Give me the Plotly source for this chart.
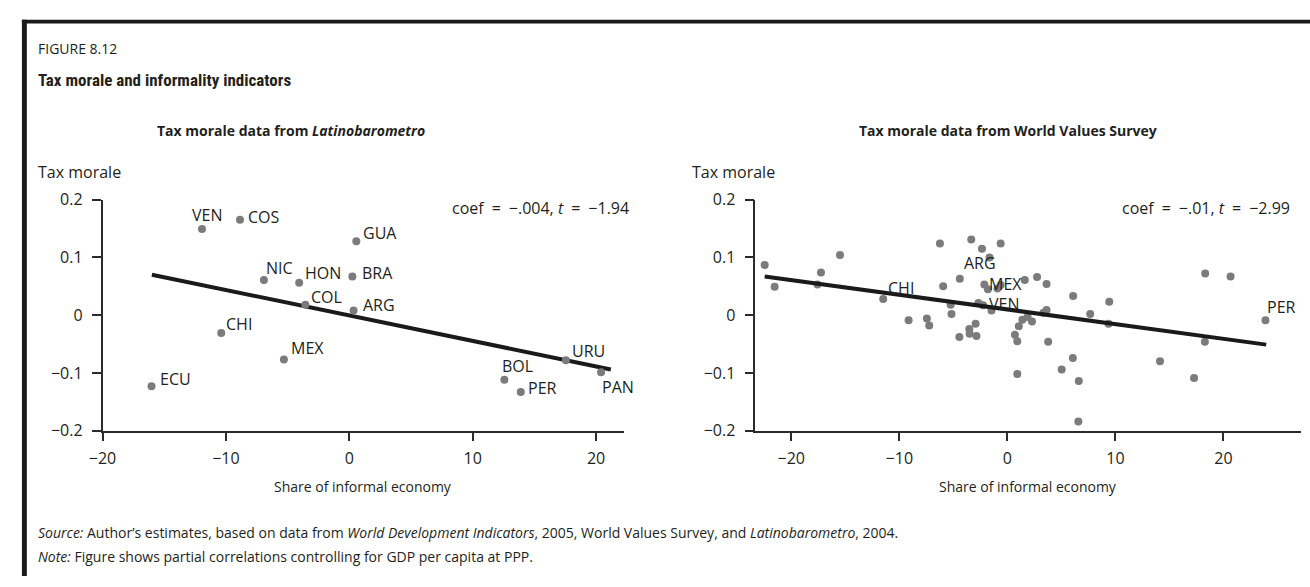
import plotly.graph_objects as go

W, H = 1310, 587

# ---------------- data: left panel (Latinobarometro) ----------------
lat_countries = ["VEN", "COS", "GUA", "NIC", "HON", "BRA", "COL", "ARG", "CHI",
                 "MEX", "ECU", "BOL", "PER", "URU", "PAN"]
lat_x = [-11.94, -8.86, 0.57, -6.92, -4.06, 0.25, -3.56, 0.35, -10.38,
         -5.30, -16.03, 12.57, 13.90, 17.56, 20.41]
lat_y = [0.149, 0.165, 0.128, 0.061, 0.056, 0.067, 0.018, 0.008, -0.031,
         -0.077, -0.123, -0.112, -0.133, -0.078, -0.099]
lat_fit_x = [-16.0, 21.2]
lat_fit_y = [0.070, -0.094]

# ---------------- data: right panel (World Values Survey) ----------------
wvs_x = [-22.46, -21.54, -15.49, -17.25, -17.58, -11.49, -9.14, -7.45, -7.23,
         -6.24, -5.94, -5.25, -5.17, -4.44, -4.40, -3.34, -3.52, -3.49, -2.94,
         -2.86, -2.68, -2.35, -2.13, -2.24, -1.65, -1.80, -1.47, -0.92, -0.62,
         -0.62, 0.70, 0.92, 1.06, 0.92, 1.39, 1.61, 1.87, 2.28, 2.75, 3.34,
         3.63, 3.63, 3.78, 5.03, 6.09, 6.06, 6.61, 6.57, 7.67, 9.43, 9.36,
         14.13, 17.28, 18.31, 18.28, 20.66, 23.89]
wvs_y = [0.087, 0.049, 0.104, 0.074, 0.053, 0.028, -0.009, -0.006, -0.018,
         0.124, 0.050, 0.018, 0.002, -0.038, 0.063, 0.131, -0.024, -0.032, -0.015,
         -0.036, 0.021, 0.115, 0.053, 0.017, 0.100, 0.045, 0.008, 0.046, 0.124,
         0.052, -0.034, -0.045, -0.019, -0.102, -0.008, 0.061, -0.003, -0.011, 0.066, 0.004,
         0.054, 0.009, -0.046, -0.094, 0.033, -0.074, -0.114, -0.184, 0.002, 0.023, -0.015,
         -0.080, -0.109, 0.072, -0.046, 0.067, -0.009]
wvs_countries = ["CHI", "ARG", "MEX", "VEN", "PER"]
wvs_label_index = [5, 14, 22, 26, 56]
wvs_fit_x = [-22.46, 23.96]
wvs_fit_y = [0.067, -0.051]

y_ticks = [-0.2, -0.1, 0, 0.1, 0.2]
y_ticktext = ["\u22120.2", "\u22120.1", "0", "0.1", "0.2"]
x_ticks = [-20, -10, 0, 10, 20]
x_ticktext = ["\u221220", "\u221210", "0", "10", "20"]

# ---------------- styles ----------------
FONT = "Open Sans, Noto Sans, DejaVu Sans, sans-serif"
COND = "Liberation Sans Narrow, Roboto Condensed, Arial Narrow, Liberation Sans, sans-serif"
TXT = "#231f20"
AX = "#2b2b2b"
DOT = "#7b7b7b"
LBL = 16

# label offsets (pixels, text centre relative to the dot; +dy = down)
lat_off = [(5, -14), (24, -3), (24, -8), (16, -12), (24, -10), (25, -3), (21, -8),
           (25, -6), (18, -9), (24, -12), (24, -7), (13, -14), (22, -4), (23, -9), (17, 15)]
wvs_off = [(18, -11), (20, -16), (21, -1), (13, -7), (16, -13)]

fig = go.Figure()

fig.add_trace(go.Scatter(x=lat_fit_x, y=lat_fit_y, mode="lines",
                         line=dict(color="#1a1a1a", width=4), xaxis="x", yaxis="y",
                         hoverinfo="skip", showlegend=False))
fig.add_trace(go.Scatter(x=lat_x, y=lat_y, mode="markers",
                         marker=dict(color=DOT, size=8), xaxis="x", yaxis="y",
                         cliponaxis=False, showlegend=False))

fig.add_trace(go.Scatter(x=wvs_x, y=wvs_y, mode="markers",
                         marker=dict(color=DOT, size=8), xaxis="x2", yaxis="y2",
                         cliponaxis=False, showlegend=False))
fig.add_trace(go.Scatter(x=wvs_fit_x, y=wvs_fit_y, mode="lines",
                         line=dict(color="#1a1a1a", width=4), xaxis="x2", yaxis="y2",
                         hoverinfo="skip", showlegend=False))


def px(x):
    return x / W


def py(y):
    return 1 - y / H


ydom = [py(436), py(196)]

axis_common = dict(showline=True, linecolor=AX, linewidth=1.5, ticks="outside",
                   ticklen=9, tickwidth=1.5, tickcolor=AX, showgrid=False, zeroline=False,
                   tickfont=dict(family=FONT, size=16, color=TXT), fixedrange=True)

fig.update_layout(
    width=W, height=H, margin=dict(l=0, r=0, t=0, b=0),
    paper_bgcolor="white", plot_bgcolor="white",
    xaxis=dict(domain=[px(89.5), px(617)], range=[-20, 22.3], anchor="y",
               tickvals=x_ticks, ticktext=x_ticktext, ticklabelstandoff=3, **axis_common),
    yaxis=dict(domain=ydom, range=[-0.2, 0.2], anchor="x",
               tickvals=y_ticks, ticktext=y_ticktext, ticklabelstandoff=6, **axis_common),
    xaxis2=dict(domain=[px(749.3), px(1300.7)], range=[-23.33, 27.16], anchor="y2",
                tickvals=x_ticks, ticktext=x_ticktext, ticklabelstandoff=3, **axis_common),
    yaxis2=dict(domain=ydom, range=[-0.2, 0.2], anchor="x2",
                tickvals=y_ticks, ticktext=y_ticktext, ticklabelstandoff=6, **axis_common),
)

ann = []

# point labels
for name, x, y, (dx, dy) in zip(lat_countries, lat_x, lat_y, lat_off):
    ann.append(dict(text=name, x=x, y=y, xref="x", yref="y", xshift=dx, yshift=-dy,
                    xanchor="center", yanchor="middle", showarrow=False,
                    font=dict(family=FONT, size=LBL, color=TXT)))
for name, i, (dx, dy) in zip(wvs_countries, wvs_label_index, wvs_off):
    ann.append(dict(text=name, x=wvs_x[i], y=wvs_y[i], xref="x2", yref="y2",
                    xshift=dx, yshift=-dy, xanchor="center", yanchor="middle",
                    showarrow=False, font=dict(family=FONT, size=LBL, color=TXT)))


def add_text(text, x, y, size=14, xanchor="left", family=FONT, color=TXT):
    ann.append(dict(text=text, x=px(x), y=py(y), xref="paper", yref="paper",
                    xanchor=xanchor, yanchor="middle", showarrow=False,
                    font=dict(family=family, size=size, color=color)))


add_text("FIGURE 8.12", 22, 39, size=14)
add_text("<b>Tax morale and informality indicators</b>", 22, 72, size=17, family=COND)
add_text("<b>Tax morale data from <i>Latinobarometro</i></b>", 280, 124, size=14, xanchor="center")
add_text("<b>Tax morale data from World Values Survey</b>", 1005, 124, size=14, xanchor="center")
add_text("Tax morale", 22, 167, size=16)
add_text("Tax morale", 683, 167, size=16)
add_text("coef\u2002=\u2002\u2212.004, <i>t</i>\u2002=\u2002\u22121.94", 624, 205, size=16, xanchor="right")
add_text("coef\u2002=\u2002\u2212.01, <i>t</i>\u2002=\u2002\u22122.99", 1292, 205, size=16, xanchor="right")
add_text("Share of informal economy", 353, 494, size=14, xanchor="center")
add_text("Share of informal economy", 1025, 494, size=14, xanchor="center")
add_text("<i>Source:</i> Author\u2019s estimates, based on data from <i>World Development Indicators</i>, "
         "2005, World Values Survey, and <i>Latinobarometro</i>, 2004.", 22, 542, size=14)
add_text("<i>Note:</i> Figure shows partial correlations controlling for GDP per capita at PPP.",
         22, 567, size=14)

fig.update_layout(annotations=ann)

fig.update_layout(shapes=[
    dict(type="rect", xref="paper", yref="paper", x0=px(8), x1=px(13), y0=0, y1=py(9),
         fillcolor="#1a1a1a", line=dict(width=0)),
    dict(type="rect", xref="paper", yref="paper", x0=px(8), x1=1, y0=py(13), y1=py(9),
         fillcolor="#1a1a1a", line=dict(width=0)),
])

fig.write_html("out.html", config={"displayModeBar": False},
               post_script="document.body.style.margin='0px';")
